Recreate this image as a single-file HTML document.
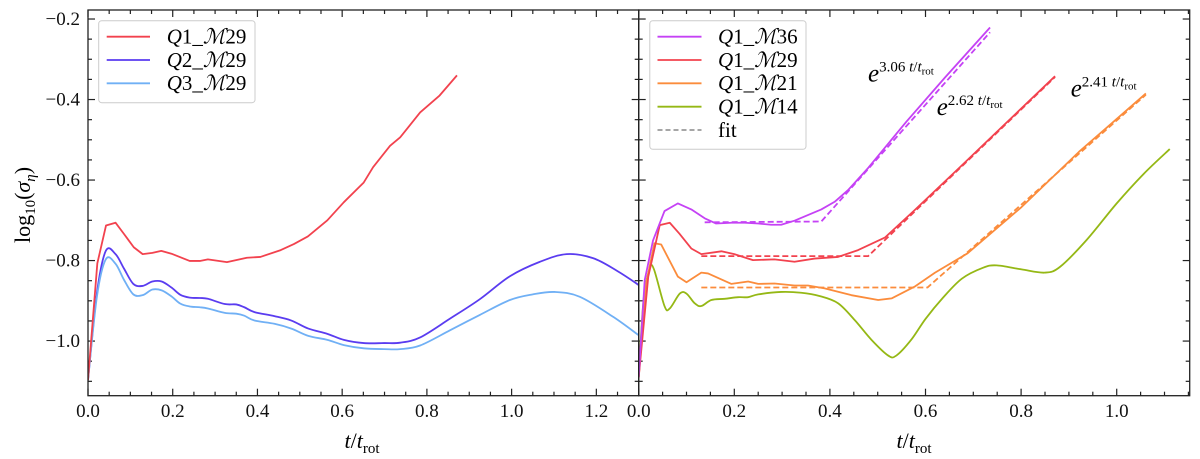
<!DOCTYPE html>
<html><head><meta charset="utf-8"><style>
html,body{margin:0;padding:0;background:#fff;}
svg{display:block;font-family:"Liberation Serif","DejaVu Serif",serif;}
svg text{font-family:"Liberation Serif","DejaVu Serif",serif;}
</style></head><body>
<svg id="chart" width="1200" height="459" viewBox="0 0 1200 459" xmlns="http://www.w3.org/2000/svg">
<defs>
<clipPath id="clipL"><rect x="88" y="10" width="550.7" height="385.7"/></clipPath>
<clipPath id="clipR"><rect x="638.7" y="10" width="551" height="385.7"/></clipPath>
</defs>
<g id="gL"></g>
<g id="gR"></g>

<text transform="translate(30,205) rotate(-90)" text-anchor="middle" font-size="22">log<tspan font-size="15" dy="5">10</tspan><tspan dy="-5">(</tspan><tspan font-style="italic">σ</tspan><tspan font-style="italic" font-size="15" dy="5">η</tspan><tspan dy="-5">)</tspan></text>
<text x="362" y="448" text-anchor="middle" font-size="22"><tspan font-style="italic">t</tspan>/<tspan font-style="italic">t</tspan><tspan font-size="15" dy="5">rot</tspan></text>
<text x="914" y="448" text-anchor="middle" font-size="22"><tspan font-style="italic">t</tspan>/<tspan font-style="italic">t</tspan><tspan font-size="15" dy="5">rot</tspan></text>

<g>
<rect x="98.7" y="20.7" width="156.3" height="82" rx="3" fill="#fff" stroke="#ccc" stroke-width="1"/>
<line x1="106.7" y1="36.7" x2="150" y2="36.7" stroke="#f2424e" stroke-width="1.8"/>
<text x="166.7" y="43.5" font-size="21"><tspan font-style="italic">Q</tspan>1_<tspan font-style="italic">ℳ</tspan>29</text>
<line x1="106.7" y1="60" x2="150" y2="60" stroke="#5a3cf0" stroke-width="1.8"/>
<text x="166.7" y="66.8" font-size="21"><tspan font-style="italic">Q</tspan>2_<tspan font-style="italic">ℳ</tspan>29</text>
<line x1="106.7" y1="83.3" x2="150" y2="83.3" stroke="#70b0f5" stroke-width="1.8"/>
<text x="166.7" y="90.1" font-size="21"><tspan font-style="italic">Q</tspan>3_<tspan font-style="italic">ℳ</tspan>29</text>
</g>
<g>
<rect x="649.8" y="20.7" width="156.2" height="128.6" rx="3" fill="#fff" stroke="#ccc" stroke-width="1"/>
<line x1="657.5" y1="36.7" x2="701.5" y2="36.7" stroke="#c542f5" stroke-width="1.8"/>
<text x="718" y="43.5" font-size="21"><tspan font-style="italic">Q</tspan>1_<tspan font-style="italic">ℳ</tspan>36</text>
<line x1="657.5" y1="60" x2="701.5" y2="60" stroke="#f2424e" stroke-width="1.8"/>
<text x="718" y="66.8" font-size="21"><tspan font-style="italic">Q</tspan>1_<tspan font-style="italic">ℳ</tspan>29</text>
<line x1="657.5" y1="83.3" x2="701.5" y2="83.3" stroke="#fb8c3c" stroke-width="1.8"/>
<text x="718" y="90.1" font-size="21"><tspan font-style="italic">Q</tspan>1_<tspan font-style="italic">ℳ</tspan>21</text>
<line x1="657.5" y1="106.7" x2="701.5" y2="106.7" stroke="#95b815" stroke-width="1.8"/>
<text x="718" y="113.5" font-size="21"><tspan font-style="italic">Q</tspan>1_<tspan font-style="italic">ℳ</tspan>14</text>
<line x1="657.5" y1="130" x2="701.5" y2="130" stroke="#888" stroke-width="1.6" stroke-dasharray="5,3"/>
<text x="718" y="136.8" font-size="21">fit</text>
</g>
<text x="868" y="81.7" font-size="25" font-style="italic">e<tspan font-size="15" font-style="normal" dy="-10">3.06 </tspan><tspan font-size="15">t</tspan><tspan font-size="15" font-style="normal">/</tspan><tspan font-size="15">t</tspan><tspan font-size="11" font-style="normal" dy="3">rot</tspan></text>
<text x="936.7" y="115" font-size="25" font-style="italic">e<tspan font-size="15" font-style="normal" dy="-10">2.62 </tspan><tspan font-size="15">t</tspan><tspan font-size="15" font-style="normal">/</tspan><tspan font-size="15">t</tspan><tspan font-size="11" font-style="normal" dy="3">rot</tspan></text>
<text x="1070.7" y="96.7" font-size="25" font-style="italic">e<tspan font-size="15" font-style="normal" dy="-10">2.41 </tspan><tspan font-size="15">t</tspan><tspan font-size="15" font-style="normal">/</tspan><tspan font-size="15">t</tspan><tspan font-size="11" font-style="normal" dy="3">rot</tspan></text>
</svg>
<script>
const leftQ1T = [0,0.022,0.0425,0.065,0.085,0.108,0.129,0.152,0.173,0.197,0.24,0.264,0.283,0.328,0.375,0.407,0.455,0.486,0.519,0.565,0.604,0.651,0.673,0.713,0.737,0.784,0.83,0.871];
const leftQ1V = [-1.097,-0.807,-0.713,-0.706,-0.734,-0.767,-0.784,-0.781,-0.776,-0.783,-0.801,-0.801,-0.797,-0.804,-0.793,-0.791,-0.774,-0.759,-0.740,-0.700,-0.655,-0.606,-0.568,-0.515,-0.494,-0.432,-0.39,-0.340];
const leftQ2T = [0,0.021,0.042,0.065,0.085,0.107,0.129,0.152,0.174,0.197,0.218,0.24,0.264,0.283,0.323,0.35,0.369,0.393,0.44,0.48,0.52,0.565,0.604,0.651,0.699,0.737,0.784,0.855,0.925,0.996,1.067,1.13,1.192,1.248,1.303,1.33];
const leftQ2V = [-1.097,-0.881,-0.776,-0.784,-0.820,-0.858,-0.863,-0.852,-0.852,-0.867,-0.885,-0.892,-0.893,-0.895,-0.908,-0.909,-0.916,-0.928,-0.938,-0.949,-0.969,-0.982,-0.997,-1.005,-1.005,-1.004,-0.991,-0.944,-0.896,-0.839,-0.803,-0.784,-0.794,-0.825,-0.863,-0.885];
const leftQ3T = [0,0.021,0.042,0.065,0.085,0.107,0.129,0.152,0.174,0.197,0.218,0.24,0.264,0.283,0.323,0.35,0.369,0.393,0.44,0.48,0.52,0.565,0.604,0.651,0.699,0.737,0.784,0.855,0.925,0.996,1.05,1.102,1.161,1.24,1.303];
const leftQ3V = [-1.097,-0.89,-0.797,-0.808,-0.848,-0.884,-0.886,-0.872,-0.874,-0.889,-0.907,-0.914,-0.916,-0.919,-0.930,-0.932,-0.937,-0.949,-0.957,-0.969,-0.987,-0.997,-1.010,-1.018,-1.020,-1.020,-1.011,-0.973,-0.935,-0.898,-0.884,-0.878,-0.890,-0.940,-0.988];
const rM36T = [0,0.0125,0.03,0.054,0.082,0.11,0.138,0.162,0.194,0.222,0.25,0.277,0.298,0.326,0.354,0.382,0.41,0.438,0.48,0.56,0.641,0.735];
const rM36V = [-1.09,-0.849,-0.75,-0.677,-0.658,-0.673,-0.695,-0.708,-0.706,-0.706,-0.708,-0.711,-0.711,-0.701,-0.687,-0.673,-0.654,-0.625,-0.570,-0.455,-0.345,-0.221];
const rM29T = [0,0.02,0.044,0.065,0.085,0.11,0.131,0.173,0.2,0.239,0.284,0.326,0.368,0.417,0.459,0.515,0.577,0.673,0.753,0.871];
const rM29V = [-1.09,-0.84,-0.712,-0.706,-0.733,-0.77,-0.784,-0.777,-0.784,-0.799,-0.797,-0.803,-0.795,-0.791,-0.774,-0.743,-0.675,-0.567,-0.476,-0.342];
const rM21T = [0,0.015,0.033,0.047,0.082,0.1,0.131,0.145,0.194,0.229,0.25,0.284,0.326,0.354,0.389,0.445,0.501,0.529,0.577,0.62,0.688,0.801,0.921,1.061];
const rM21V = [-1.09,-0.86,-0.757,-0.76,-0.840,-0.854,-0.830,-0.832,-0.858,-0.852,-0.858,-0.857,-0.862,-0.862,-0.869,-0.886,-0.898,-0.894,-0.865,-0.83,-0.782,-0.667,-0.530,-0.385];
const rM14T = [0,0.01,0.023,0.032,0.054,0.065,0.086,0.1,0.117,0.131,0.152,0.18,0.208,0.229,0.25,0.298,0.34,0.378,0.417,0.452,0.487,0.522,0.539,0.57,0.6,0.636,0.676,0.72,0.749,0.801,0.849,0.881,0.937,1.0,1.057,1.111];
const rM14V = [-1.09,-0.9,-0.820,-0.822,-0.913,-0.919,-0.882,-0.882,-0.906,-0.913,-0.898,-0.895,-0.891,-0.891,-0.884,-0.878,-0.880,-0.888,-0.906,-0.948,-0.997,-1.036,-1.036,-0.997,-0.945,-0.893,-0.845,-0.818,-0.812,-0.822,-0.830,-0.816,-0.749,-0.658,-0.584,-0.523];
const fitM36T = [0.138,0.382,0.735];
const fitM36V = [-0.705,-0.703,-0.233];
const fitM29T = [0.131,0.48,0.871];
const fitM29V = [-0.789,-0.789,-0.344];
const fitM21T = [0.131,0.604,1.061];
const fitM21V = [-0.867,-0.867,-0.388];
const xTicksLeft = [0,0.2,0.4,0.6,0.8,1.0,1.2];
const xTicksRight = [0,0.2,0.4,0.6,0.8,1.0];
const yTicks = [-1.0,-0.8,-0.6,-0.4,-0.2];
const xTickLabelsLeft = ["0.0","0.2","0.4","0.6","0.8","1.0","1.2"];
const xTickLabelsRight = ["0.0","0.2","0.4","0.6","0.8","1.0"];
const yTickLabels = ["\u22121.0","\u22120.8","\u22120.6","\u22120.4","\u22120.2"];

const NS = "http://www.w3.org/2000/svg";
const Y0 = 10, Y1 = 395.7, VMAX = -0.1776, VMIN = -1.1357;
function yScale(v){ return Y0 + (VMAX - v) / (VMAX - VMIN) * (Y1 - Y0); }
function mk(tag, attrs, parent){ const e = document.createElementNS(NS, tag); for (const k in attrs) e.setAttribute(k, attrs[k]); parent.appendChild(e); return e; }

function panel(g, x0, x1, tmax, clip, xt, xl, showY){
  const xs = t => x0 + t / tmax * (x1 - x0);
  const axes = mk('g', {}, g);
  
  
  for (let t = 0; t <= tmax + 1e-9; t += 0.05) {
    const major = Math.abs(t / 0.2 - Math.round(t / 0.2)) < 1e-6;
    const L = major ? 7 : 4;
    const x = xs(t);
    mk('line', {x1:x, y1:Y1, x2:x, y2:Y1-L, stroke:'#222', 'stroke-width':1.2}, axes);
    mk('line', {x1:x, y1:Y0, x2:x, y2:Y0+L, stroke:'#222', 'stroke-width':1.2}, axes);
  }
  for (let v = -1.1; v <= -0.18 + 1e-9; v += 0.05) {
    const major = Math.abs(v / 0.2 - Math.round(v / 0.2)) < 1e-6;
    const L = major ? 7 : 4;
    const y = yScale(v);
    mk('line', {x1:x0, y1:y, x2:x0+L, y2:y, stroke:'#222', 'stroke-width':1.2}, axes);
    mk('line', {x1:x1, y1:y, x2:x1-L, y2:y, stroke:'#222', 'stroke-width':1.2}, axes);
  }
  xt.forEach((t, i) => {
    const tx = mk('text', {x: xs(t), y: 417, 'text-anchor':'middle', 'font-size':19, fill:'#111'}, axes);
    
    
    tx.textContent = xl[i];
  });
  if (showY) yTicks.forEach((v, i) => {
    const tx = mk('text', {x: x0 - 8, y: yScale(v) + 6, 'text-anchor':'end', 'font-size':19, fill:'#111'}, axes);
    
    
    tx.textContent = yTickLabels[i];
  });
  const series = mk('g', {'clip-path': 'url(#' + clip + ')'}, g);
  const frame = mk('rect', {x:x0, y:Y0, width:x1-x0, height:Y1-Y0, fill:'none', stroke:'#222', 'stroke-width':1.3}, g);
  
  
  return {xs, series};
}
function smoothPath(P){
  let d = 'M' + P[0][0].toFixed(2) + ',' + P[0][1].toFixed(2);
  for (let i = 0; i < P.length - 1; i++) {
    const p0 = P[Math.max(0, i-1)], p1 = P[i], p2 = P[i+1], p3 = P[Math.min(P.length-1, i+2)];
    const c1x = p1[0] + (p2[0]-p0[0])/6, c1y = p1[1] + (p2[1]-p0[1])/6;
    const c2x = p2[0] - (p3[0]-p1[0])/6, c2y = p2[1] - (p3[1]-p1[1])/6;
    d += ' C' + c1x.toFixed(2) + ',' + c1y.toFixed(2) + ' ' + c2x.toFixed(2) + ',' + c2y.toFixed(2) + ' ' + p2[0].toFixed(2) + ',' + p2[1].toFixed(2);
  }
  return d;
}
function line(p, T, V, color, name, dash, smooth){
  const P = T.map((t, i) => [p.xs(t), yScale(V[i])]);
  let el;
  if (smooth) {
    el = mk('path', {d: smoothPath(P), fill:'none', stroke:color, 'stroke-width':1.8, 'stroke-linejoin':'round'}, p.series);
  } else {
    el = mk('polyline', {points: P.map(q => q[0].toFixed(2) + ',' + q[1].toFixed(2)).join(' '), fill:'none', stroke:color, 'stroke-width':1.8, 'stroke-linejoin':'round'}, p.series);
  }
  if (dash) el.setAttribute('stroke-dasharray', '6,3');
  
  
}
const L = panel(document.getElementById('gL'), 88, 638.7, 1.3, 'clipL', xTicksLeft, xTickLabelsLeft, true);
line(L, leftQ2T, leftQ2V, '#5a3cf0', 'series-q2-m29', false, true);
line(L, leftQ3T, leftQ3V, '#70b0f5', 'series-q3-m29', false, true);
line(L, leftQ1T, leftQ1V, '#f2424e', 'series-q1-m29');
const R = panel(document.getElementById('gR'), 638.7, 1189.7, 1.1527, 'clipR', xTicksRight, xTickLabelsRight, false);
line(R, rM14T, rM14V, '#95b815', 'series-q1-m14', false, true);
line(R, rM21T, rM21V, '#fb8c3c', 'series-q1-m21');
line(R, rM29T, rM29V, '#f2424e', 'series-q1-m29-right');
line(R, rM36T, rM36V, '#c542f5', 'series-q1-m36');
line(R, fitM21T, fitM21V, '#fb8c3c', 'fit-q1-m21', true);
line(R, fitM29T, fitM29V, '#f2424e', 'fit-q1-m29', true);
line(R, fitM36T, fitM36V, '#c542f5', 'fit-q1-m36', true);
</script>
</body></html>
